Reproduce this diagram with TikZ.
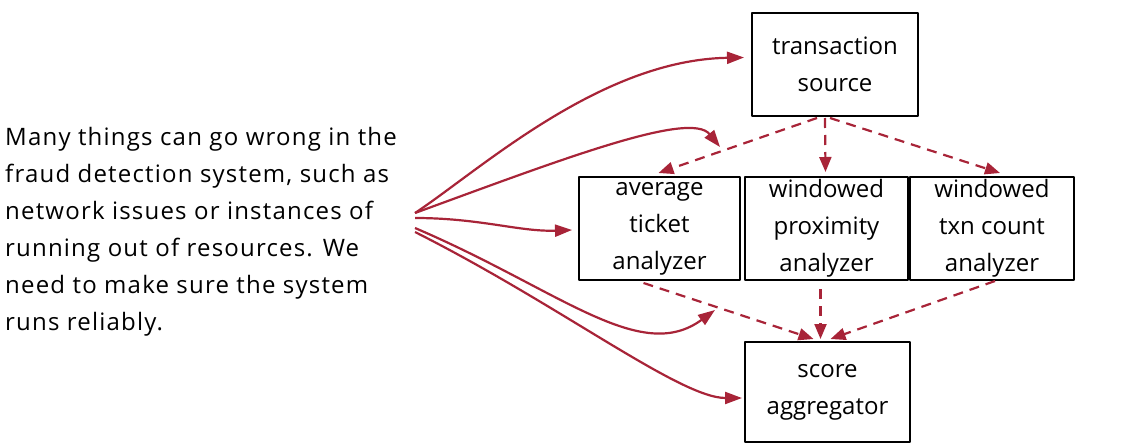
\documentclass[tikz,border=0pt]{standalone}
\usepackage{fontspec}
\setmainfont{Open Sans}
\newfontfamily\widehand{Open Sans}[LetterSpace=5]
\usetikzlibrary{arrows.meta,calc}
\definecolor{flow}{RGB}{168,36,56}
\begin{document}
\begin{tikzpicture}[x=1pt,y=-1pt,
  hand/.style={font=\fontsize{24}{37}\selectfont},
  stage/.style={draw=black, line width=2pt, line join=round, inner sep=0pt,
    align=center, hand, minimum height=103pt},
  fault/.style={draw=flow, line width=2.2pt, -{Triangle[length=17pt,width=12pt]}},
  feed/.style={draw=flow, line width=2.2pt, dash pattern=on 10pt off 7pt,
    -{Triangle[length=15pt,width=12pt]}}]
\useasboundingbox (0,0) rectangle (1142,444);

% explanatory note
\node[font=\widehand\fontsize{24}{37}\selectfont, anchor=north west, inner sep=0pt, align=left] (note) at (5,127)
  {Many things can go wrong in the\\
   fraud detection system, such as\\
   network issues or instances of\\
   running out of resources. We\\
   need to make sure the system\\
   runs reliably.};

% pipeline stages
\node[stage, minimum width=166pt] (ts)  at (835,64.5)  {transaction\\source};
\node[stage, minimum width=161pt] (avg) at (659.5,228.5) {average\\ticket\\analyzer};
\node[stage, minimum width=163pt] (prx) at (826.5,228.5) {windowed\\proximity\\analyzer};
\node[stage, minimum width=164pt] (txn) at (992,228.5) {windowed\\txn count\\analyzer};
\node[stage, minimum width=165pt, minimum height=100pt] (sa) at (827.5,392) {score\\aggregator};

% data flow between stages
\draw[feed] ($(ts.south)+(-18,1)$) -- ($(avg.north)+(-1,-3)$);
\draw[feed] ($(ts.south)+(-10,1)$) -- ($(prx.north)+(-1,-4)$);
\draw[feed] ($(ts.south)+(-5,1)$)  -- ($(txn.north)+(8,-3)$);
\draw[feed] ($(avg.south)+(-16,2)$) -- ($(sa.north)+(-14,-2)$);
\draw[feed] ($(prx.south)+(-6,8)$)  -- ($(sa.north)+(-7,-2)$);
\draw[feed] ($(txn.south)+(3,0)$)   -- ($(sa.north)+(3,-2)$);

% failure points fanning out from the note
\coordinate (s1) at (415,213);
\coordinate (s2) at (415,218);
\coordinate (s3) at (415,228);
\coordinate (s4) at (415,232);
\coordinate (c1) at (720,147);
\coordinate (c2) at (715,310);

\draw[fault] (s1) .. controls (480,170) and (600,60) .. ($(ts.west)+(-7,-7)$);
\draw[fault] (s1) .. controls (560,160) and (690,110) .. (c1);
\draw[fault] (s2) .. controls (480,218) and (520,232) .. ($(avg.west)+(-6,1.5)$);
\draw[fault] (s3) .. controls (560,290) and (640,365) .. (c2);
\draw[fault] (s4) .. controls (560,305) and (680,398) .. ($(sa.west)+(-2,6)$);
\end{tikzpicture}
\end{document}
